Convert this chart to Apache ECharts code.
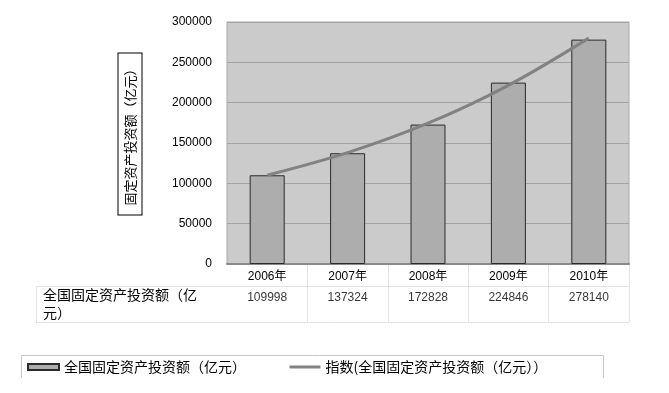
<!DOCTYPE html>
<html>
<head>
<meta charset="utf-8">
<script src="https://cdn.jsdelivr.net/npm/echarts@6/dist/echarts.min.js"></script>
<style>
html,body{margin:0;padding:0;background:#fff;}
#c{width:669px;height:393px;}
</style>
</head>
<body>
<div id="c"></div>
<script>
const categories = ['2006年', '2007年', '2008年', '2009年', '2010年'];
const investValues = [109998, 137324, 172828, 224846, 278140];
const trendValues = [110000, 138000, 174500, 221500, 280000];
const yTicks = [0, 50000, 100000, 150000, 200000, 250000, 300000];
const barName = '全国固定资产投资额（亿元）';
const trendName = '指数(全国固定资产投资额（亿元））';
const rowHeader = '全国固定资产投资额（亿\n元）';
const yTitle = '固定资产投资额（亿元）';

const FONT = '"Liberation Sans", "Noto Sans CJK SC", sans-serif';
const chart = echarts.init(document.getElementById('c'));
const option = {
  animation: false,
  textStyle: { fontFamily: FONT, color: '#000' },
  grid: [
    { left: 227, right: 40, top: 22, bottom: 129, show: true,
      backgroundColor: '#cbcbcb', borderColor: '#a8a8a8', borderWidth: 1 },
    { left: 227, right: 40, top: 264, bottom: 71, show: false }
  ],
  xAxis: [
    { type: 'category', gridIndex: 0, data: categories,
      axisLine: { show: true, lineStyle: { color: '#8a8a8a', width: 2 } },
      axisTick: { show: false },
      axisLabel: { fontSize: 12, color: '#000', margin: 7, fontFamily: FONT } },
    { type: 'category', gridIndex: 1, data: categories,
      axisLine: { show: false }, axisTick: { show: false }, axisLabel: { show: false },
      splitLine: { show: true, showMinLine: false, showMaxLine: true,
        lineStyle: { color: '#e2e2e2', width: 1 } } }
  ],
  yAxis: [
    { type: 'value', gridIndex: 0, min: yTicks[0], max: yTicks[yTicks.length - 1], interval: yTicks[1] - yTicks[0],
      axisLine: { show: false }, axisTick: { show: false },
      axisLabel: { fontSize: 12, color: '#000', margin: 15, fontFamily: FONT, formatter: v => String(v) },
      splitLine: { show: true, lineStyle: { color: '#a2a2a2', width: 1 } } },
    { type: 'value', gridIndex: 1, min: 0, max: 58,
      axisLine: { show: false }, axisTick: { show: false }, axisLabel: { show: false },
      splitLine: { show: false } }
  ],
  legend: {
    left: 27, top: 360, padding: 0, itemWidth: 31, itemHeight: 6, itemGap: 42,
    textStyle: { fontSize: 14, color: '#000', fontFamily: '"Noto Sans CJK SC", sans-serif' },
    data: [ { name: barName, icon: 'rect' },
            { name: trendName, itemStyle: { opacity: 0 }, lineStyle: { width: 3, color: '#828282' } } ]
  },
  series: [
    { name: barName, type: 'bar', xAxisIndex: 0, yAxisIndex: 0, data: investValues, barWidth: 35,
      itemStyle: { color: '#adadad', borderColor: '#2a2a2a', borderWidth: 1 } },
    { name: trendName, type: 'line', xAxisIndex: 0, yAxisIndex: 0, data: trendValues,
      smooth: 0.35, symbol: 'none',
      lineStyle: { color: '#828282', width: 3 }, itemStyle: { color: '#828282' } },
    { name: 'table', type: 'scatter', xAxisIndex: 1, yAxisIndex: 1, symbolSize: 0,
      data: investValues.map((v, i) => [i, 24, v]),
      label: { show: true, position: 'inside', fontSize: 12, color: '#000', fontFamily: FONT,
        formatter: p => String(p.value[2]) },
      silent: true }
  ],
  graphic: [
    { type: 'text', x: 130, y: 134, rotation: Math.PI / 2,
      style: { text: yTitle, fontSize: 13, fill: '#000', align: 'center', verticalAlign: 'middle',
        fontFamily: '"Noto Sans CJK SC", sans-serif',
        borderColor: '#000', borderWidth: 1, padding: [5, 9, 5, 9], backgroundColor: '#fff' } },
    { type: 'line', shape: { x1: 36, y1: 286.5, x2: 629, y2: 286.5 }, style: { stroke: '#e2e2e2', lineWidth: 1 } },
    { type: 'line', shape: { x1: 36, y1: 322.5, x2: 629, y2: 322.5 }, style: { stroke: '#e2e2e2', lineWidth: 1 } },
    { type: 'line', shape: { x1: 36.5, y1: 286, x2: 36.5, y2: 322 }, style: { stroke: '#e2e2e2', lineWidth: 1 } },
    { type: 'text', x: 43, y: 286,
      style: { text: rowHeader, fontSize: 14, lineHeight: 18, fill: '#000', align: 'left', verticalAlign: 'top',
        fontFamily: '"Noto Sans CJK SC", sans-serif' } },
    { type: 'polyline', shape: { points: [[21.5, 378], [21.5, 355.5], [603.5, 355.5], [603.5, 378]] },
      style: { stroke: '#c8c8c8', lineWidth: 1, fill: null } }
  ]
};
chart.setOption(option);
</script>
</body>
</html>
